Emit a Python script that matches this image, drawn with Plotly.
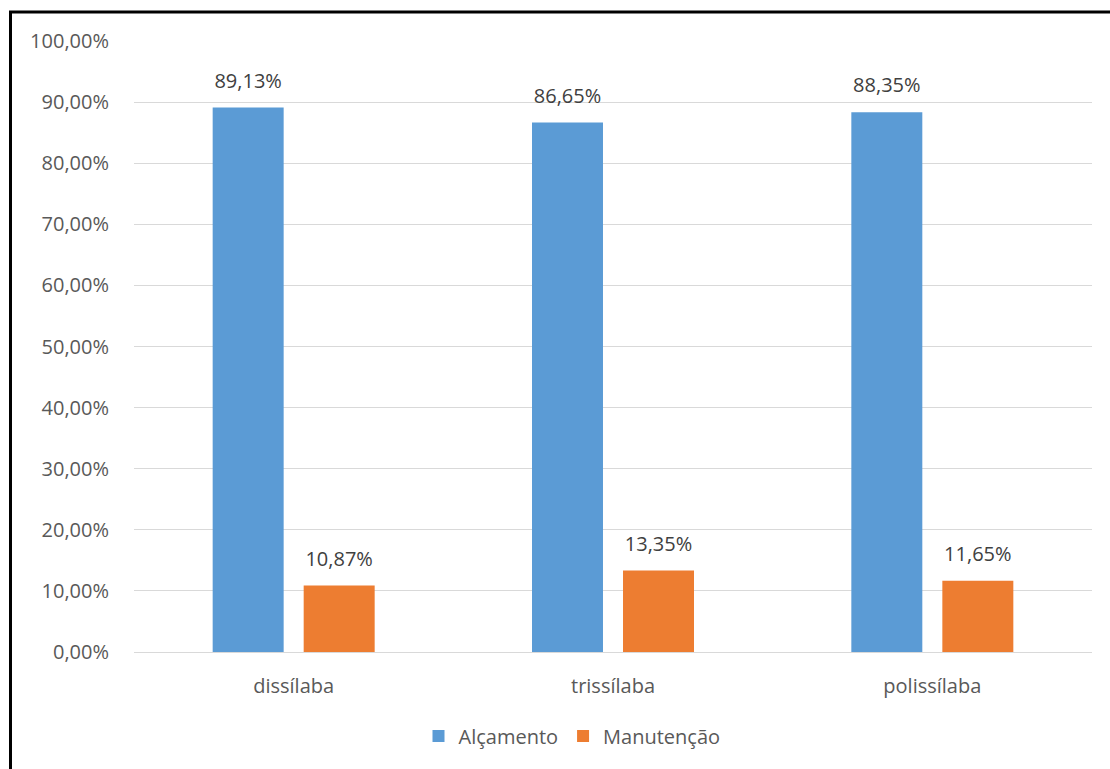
import plotly.graph_objects as go

categories = ["dissílaba", "trissílaba", "polissílaba"]
alcamento = [0.8913, 0.8665, 0.8835]
manutencao = [0.1087, 0.1335, 0.1165]
series_names = ["Alçamento", "Manutenção"]
colors = ["#5b9bd5", "#ed7d31"]

W, H = 1110, 769
ML, MR, MT, MB = 134, 18, 41, 117
PW, PH = W - ML - MR, H - MT - MB

fig = go.Figure()
for i, (name, vals, col) in enumerate(zip(series_names, [alcamento, manutencao], colors)):
    fig.add_trace(go.Bar(
        x=categories, y=vals, name=name, marker=dict(color=col, line=dict(width=0)),
        offsetgroup=str(i),
    ))
for i, vals in enumerate([alcamento, manutencao]):
    fig.add_trace(go.Scatter(
        x=categories, y=vals, mode="markers+text", offsetgroup=str(i),
        marker=dict(size=22, opacity=0, color="white"),
        text=[f"{v*100:.2f}%".replace(".", ",") for v in vals],
        textposition="top center",
        textfont=dict(size=20, color="#404040"), cliponaxis=False,
        showlegend=False, hoverinfo="skip",
    ))

def px_x(p):
    return (p - ML) / PW

def px_y(p):
    return 1 - (p - MT) / PH

fig.update_layout(
    width=W, height=H,
    margin=dict(l=ML, r=MR, t=MT, b=MB),
    paper_bgcolor="white", plot_bgcolor="white",
    separators=",.",
    barmode="group", bargap=0.43, bargroupgap=0.22,
    scattermode="group", scattergap=0.43,
    font=dict(family="Open Sans", size=20, color="#595959"),
    xaxis=dict(showgrid=False, showline=True, linecolor="#d9d9d9", linewidth=1,
               ticks="outside", ticklen=16, tickcolor="rgba(0,0,0,0)",
               tickfont=dict(size=20, color="#595959")),
    yaxis=dict(range=[0, 1], dtick=0.1, tickformat=".2%", showgrid=True,
               gridcolor="#d9d9d9", gridwidth=1, zeroline=False,
               ticks="outside", ticklen=20, tickcolor="rgba(0,0,0,0)",
               tickfont=dict(size=20, color="#595959")),
    legend=dict(orientation="h", x=px_x(572), xanchor="center", y=px_y(736), yanchor="middle",
                font=dict(size=20, color="#595959"), itemwidth=30),
    shapes=[
        dict(type="line", xref="paper", yref="paper", x0=px_x(10.5), x1=px_x(10.5),
             y0=px_y(12), y1=px_y(775), line=dict(color="black", width=3)),
        dict(type="line", xref="paper", yref="paper", x0=px_x(9), x1=px_x(1115),
             y0=px_y(12), y1=px_y(12), line=dict(color="black", width=3)),
    ],
    showlegend=True,
)

fig.write_html("out.html")
